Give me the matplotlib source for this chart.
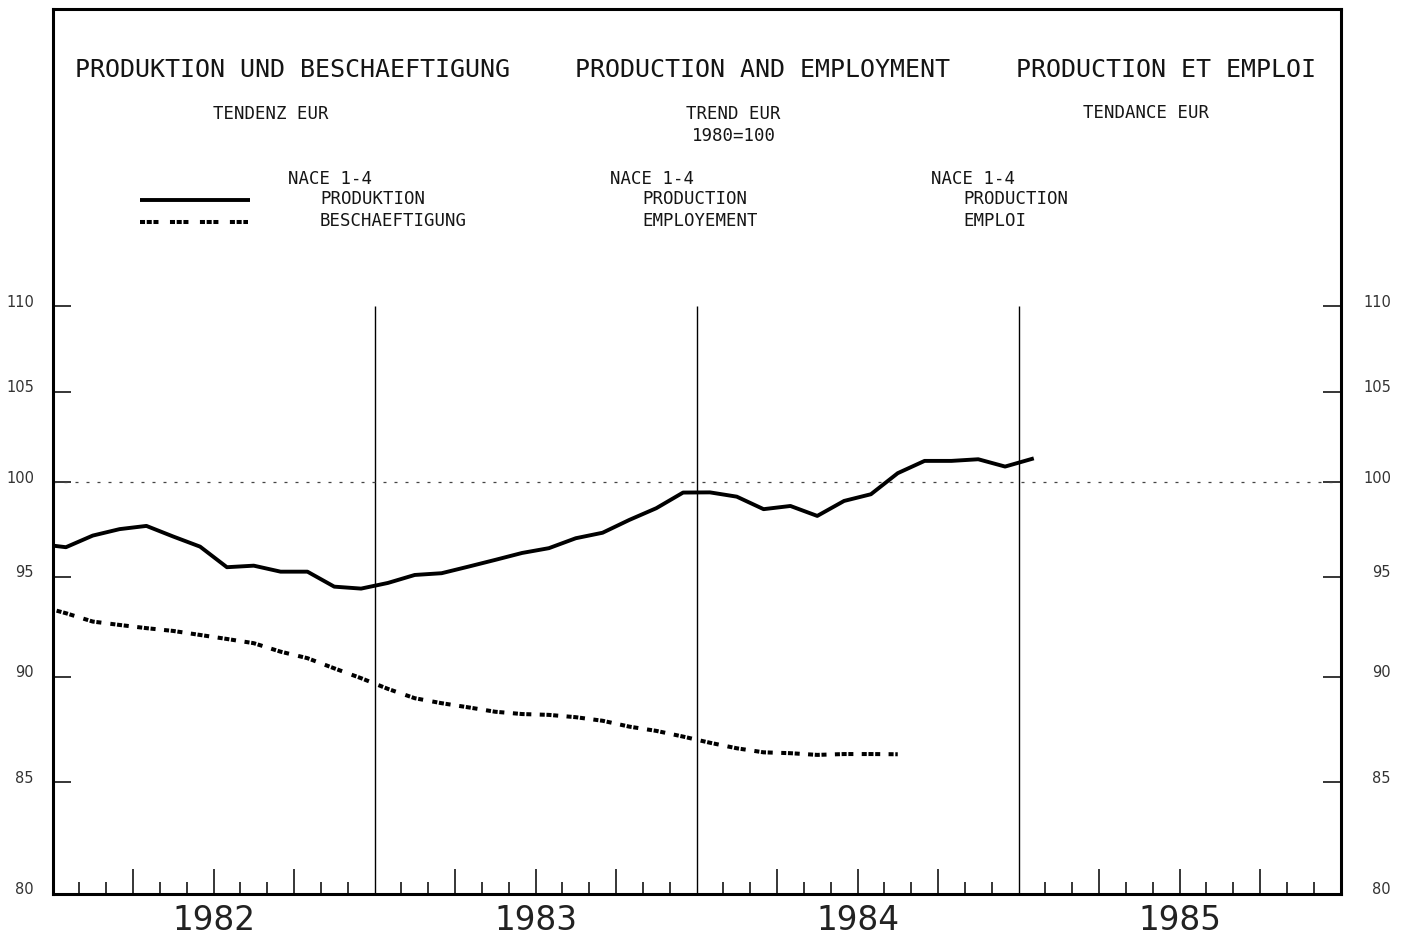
import numpy as np
import matplotlib
matplotlib.use("Agg")
import matplotlib.pyplot as plt
import matplotlib.transforms as mtransforms
from matplotlib.ticker import NullLocator, NullFormatter
from matplotlib.lines import Line2D
from matplotlib.collections import LineCollection

# trend indices, 1980=100, one value per month (mid-month), starting Dec 1981
first_month = 1981 + 11.5 / 12
produktion = [96.70, 96.53, 97.14, 97.48, 97.65, 97.09, 96.56, 95.49, 95.57, 95.26, 95.26, 94.49, 94.39,
              94.68, 95.09, 95.18, 95.52, 95.87, 96.23, 96.48, 97.00, 97.29, 97.97, 98.59, 99.43,
              99.44, 99.21, 98.54, 98.71, 98.18, 98.98, 99.34, 100.48, 101.15, 101.15, 101.24, 100.84,
              101.26]
beschaeftigung = [93.51, 93.14, 92.72, 92.55, 92.39, 92.25, 92.05, 91.85, 91.64, 91.22, 90.90, 90.40, 89.92,
                  89.40, 88.95, 88.71, 88.51, 88.30, 88.19, 88.15, 88.04, 87.87, 87.59, 87.39, 87.12,
                  86.83, 86.57, 86.38, 86.34, 86.26, 86.30, 86.30, 86.29]
years = [1982, 1983, 1984, 1985]
y_ticks = [85, 90, 95, 100, 105, 110]
y_labels = ["80", "85", "90", "95", "100", "105", "110"]
y_label_values = [80, 85, 90, 95, 100, 105, 110]

W, H = 1405, 939
MONO = "DejaVu Sans Mono"
INK = "#151515"


def px(x, y):
    return x / W, 1 - y / H


fig = plt.figure(figsize=(W / 100, H / 100), dpi=100)
fig.patch.set_facecolor("white")
ax = fig.add_axes([52.5 / W, 1 - 894 / H, 1288 / W, 885 / H])
ax.set_yscale("log")
ax.set_xlim(years[0], years[-1] + 1)
ax.set_ylim(80, 129.2)

for sp in ax.spines.values():
    sp.set_linewidth(2.2)
    sp.set_color("black")

# ticks: y both sides inward, x monthly inward (quarters longer)
ax.set_yticks(y_ticks)
ax.yaxis.set_minor_locator(NullLocator())
ax.yaxis.set_major_formatter(NullFormatter())
ax.yaxis.set_minor_formatter(NullFormatter())
ax.tick_params(axis="y", which="major", direction="in", length=13, width=1.1,
               left=True, right=True, labelleft=False, labelright=False)

quarter_ticks = [yr + m / 12 for yr in years for m in (3, 6, 9)]
month_ticks = [yr + m / 12 for yr in years for m in range(1, 12) if m % 3]
ax.set_xticks(quarter_ticks)
ax.set_xticks(month_ticks, minor=True)
ax.tick_params(axis="x", which="major", direction="in", length=18, width=1.1, labelbottom=False)
ax.tick_params(axis="x", which="minor", direction="in", length=8.6, width=1.1)

# year separators and 100 reference
ax.vlines(years[1:], 80, 110, colors="black", lw=1.0)
ax.axhline(100, color="#444444", lw=0.9, ls=(0, (2.4, 6.4)))

# production: solid
t_prod = first_month + np.arange(len(produktion)) / 12
ax.plot(t_prod, produktion, color="black", lw=2.8, solid_joinstyle="round")

# employment: groups of three squares, one group per month
t_emp = first_month + np.arange(len(beschaeftigung)) / 12
v_emp = np.array(beschaeftigung)
mid_t = (t_emp[:-1] + t_emp[1:]) / 2
mid_v = np.sqrt(v_emp[:-1] * v_emp[1:])
segs = []
for i in range(len(t_emp)):
    pts = []
    if i > 0:
        pts.append((mid_t[i - 1], mid_v[i - 1]))
    pts.append((t_emp[i], v_emp[i]))
    if i < len(t_emp) - 1:
        pts.append((mid_t[i], mid_v[i]))
    segs.append(pts)
group_style = (5.64, (1.25, 0.42, 1.25, 0.42, 1.25, 2.1))
lc = LineCollection(segs, colors="black", linewidths=2.9, linestyles=[group_style], capstyle="butt")
ax.add_collection(lc)

# y labels both sides, slightly above tick
lab_tr_l = mtransforms.offset_copy(ax.get_yaxis_transform(), fig=fig, x=0, y=4, units="dots")
for v, s in zip(y_label_values, y_labels):
    ax.text(-0.0144, v, s, transform=lab_tr_l, ha="right", va="center",
            fontsize=10.5, color="#333333", clip_on=False)
    ax.text(1.0392, v, s, transform=lab_tr_l, ha="right", va="center",
            fontsize=10.5, color="#333333", clip_on=False)

# year labels
for yr in years:
    ax.text(yr + 0.5, -0.0305, str(yr), transform=ax.get_xaxis_transform(), ha="center", va="center",
            fontsize=23.5, color="#222222", clip_on=False)

# titles
for x, s in [(75, "PRODUKTION UND BESCHAEFTIGUNG"), (575, "PRODUCTION AND EMPLOYMENT"),
             (1016, "PRODUCTION ET EMPLOI")]:
    fig.text(*px(x, 70), s, family=MONO, fontsize=18, color=INK, ha="left", va="center")

for x, y, s in [(213, 114, "TENDENZ EUR"), (686, 114, "TREND EUR"), (692, 136, "1980=100"),
                (1083, 113, "TENDANCE EUR")]:
    fig.text(*px(x, y), s, family=MONO, fontsize=12.5, color=INK, ha="left", va="center")

# legend blocks
for x0, lines in [(288, ["NACE 1-4", "PRODUKTION", "BESCHAEFTIGUNG"]),
                  (610, ["NACE 1-4", "PRODUCTION", "EMPLOYEMENT"]),
                  (931, ["NACE 1-4", "PRODUCTION", "EMPLOI"])]:
    fig.text(*px(x0, 179), lines[0], family=MONO, fontsize=12.5, color=INK, ha="left", va="center")
    fig.text(*px(x0 + 32, 199), lines[1], family=MONO, fontsize=12.5, color=INK, ha="left", va="center")
    fig.text(*px(x0 + 32, 221), lines[2], family=MONO, fontsize=12.5, color=INK, ha="left", va="center")

x1, ya = px(140, 200)
x2, _ = px(250, 200)
fig.add_artist(Line2D([x1, x2], [ya, ya], transform=fig.transFigure, color="black", lw=2.8,
                      solid_capstyle="butt"))
x2b, yb = px(248, 222)
fig.add_artist(Line2D([x1, x2b], [yb, yb], transform=fig.transFigure, color="black", lw=2.9,
                      ls=(0, (1.25, 0.42, 1.25, 0.42, 1.25, 2.85)), dash_capstyle="butt"))

fig.savefig("out.png", dpi=100, facecolor="white")
